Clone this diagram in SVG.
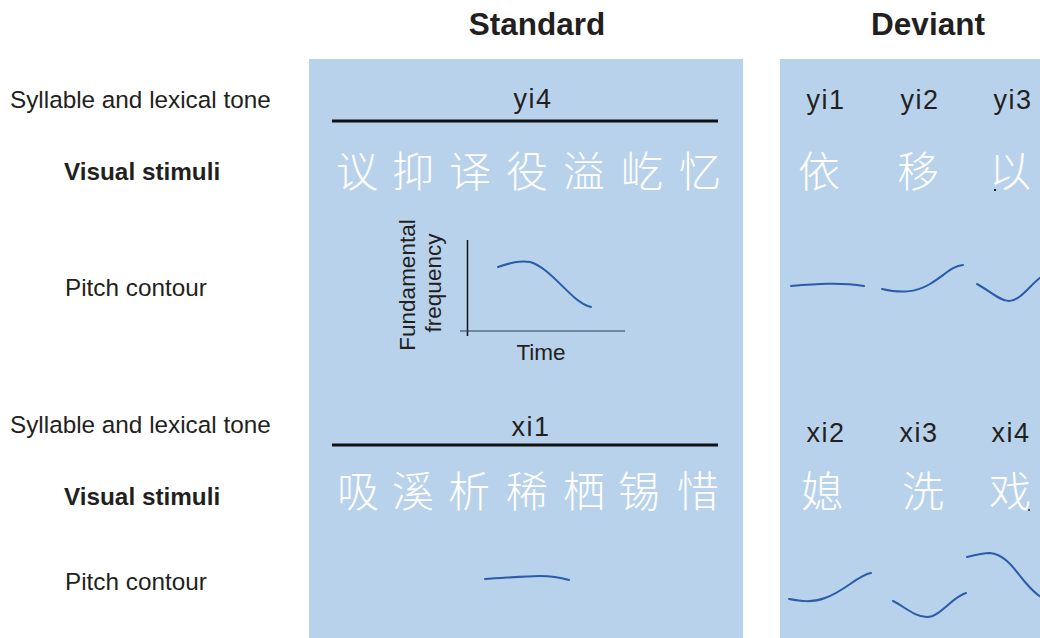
<svg xmlns="http://www.w3.org/2000/svg" width="1040" height="638" viewBox="0 0 1040 638">
<style>
.lbl{font-family:"Liberation Sans",Arial,sans-serif;font-size:24.3px;fill:#231f20}
.b{font-weight:bold}
.ttl{font-family:"Liberation Sans",Arial,sans-serif;font-size:31.5px;font-weight:bold;fill:#231f20;text-anchor:middle}
.syl{font-family:"Liberation Sans",Arial,sans-serif;font-size:27px;fill:#231f20;text-anchor:middle;letter-spacing:1.5px}
.ax{font-family:"Liberation Sans",Arial,sans-serif;font-size:22.5px;fill:#231f20;text-anchor:middle}
.cn{font-family:"Noto Sans CJK SC","Noto Sans CJK TC",sans-serif;font-size:42px;font-weight:300;fill:#ffffff;text-anchor:middle}
.panel{fill:#b8d2ec}
.rule{stroke:#111111;stroke-width:3}
.curve{fill:none;stroke:#2a5caa;stroke-width:2;stroke-linecap:round}
</style>
<rect width="1040" height="638" fill="#ffffff"/>
<g id="titles">
<text class="ttl" x="537" y="35">Standard</text>
<text class="ttl" x="928" y="35">Deviant</text>
</g>
<g id="row-labels">
<text class="lbl" x="10" y="108">Syllable and lexical tone</text>
<text class="lbl b" x="64" y="180">Visual stimuli</text>
<text class="lbl" x="65" y="296">Pitch contour</text>
<text class="lbl" x="10" y="433">Syllable and lexical tone</text>
<text class="lbl b" x="64" y="505">Visual stimuli</text>
<text class="lbl" x="65" y="590">Pitch contour</text>
</g>
<g id="standard-panel">
<rect class="panel" x="309" y="59" width="434" height="579"/>
<text class="syl" x="533" y="108">yi4</text>
<line class="rule" x1="332" y1="121" x2="718" y2="121"/>
<text class="cn" y="187"><tspan x="357">议</tspan><tspan x="413">抑</tspan><tspan x="470">译</tspan><tspan x="527">役</tspan><tspan x="584">溢</tspan><tspan x="642">屹</tspan><tspan x="700">忆</tspan></text>
<g id="f0-graph">
<line x1="467.5" y1="240" x2="467.5" y2="336" stroke="#111111" stroke-width="1.5"/>
<line x1="460" y1="331" x2="625" y2="331" stroke="#2d3a4a" stroke-width="1.2"/>
<text class="ax" transform="translate(415,285) rotate(-90)">Fundamental</text>
<text class="ax" transform="translate(441,283) rotate(-90)">frequency</text>
<text class="ax" x="541" y="360">Time</text>
<path class="curve" d="M498,267 C510,263 520,260 530,262 C545,266 560,285 575,298 C582,304 587,306 591,307"/>
</g>
<text class="syl" x="531" y="436">xi1</text>
<line class="rule" x1="332" y1="445" x2="718" y2="445"/>
<text class="cn" y="507"><tspan x="358">吸</tspan><tspan x="413">溪</tspan><tspan x="469">析</tspan><tspan x="527">稀</tspan><tspan x="584">栖</tspan><tspan x="639">锡</tspan><tspan x="698">惜</tspan></text>
<path class="curve" d="M485,579 C505,578 525,576 540,576 C552,576 562,578 569,580"/>
</g>
<g id="deviant-panel">
<rect class="panel" x="780" y="59" width="260" height="579"/>
<text class="syl" x="826" y="109">yi1</text>
<text class="syl" x="920" y="109">yi2</text>
<text class="syl" x="1013" y="109">yi3</text>
<text class="cn" y="187"><tspan x="819">依</tspan><tspan x="918">移</tspan><tspan x="1010">以</tspan></text>
<rect x="994" y="189" width="2" height="2" fill="#111111"/>
<path class="curve" d="M791,286 C815,284 840,282 864,286"/>
<path class="curve" d="M882,289 C900,293 915,293 930,284 C945,275 952,266 963,265"/>
<path class="curve" d="M977,284 C990,291 1000,301 1009,301 C1020,301 1030,285 1041,277"/>
<text class="syl" x="826" y="442">xi2</text>
<text class="syl" x="919" y="442">xi3</text>
<text class="syl" x="1011" y="442">xi4</text>
<text class="cn" y="507"><tspan x="822">媳</tspan><tspan x="923">洗</tspan><tspan x="1010">戏</tspan></text>
<rect x="1028" y="509" width="2" height="2" fill="#555555"/>
<path class="curve" d="M789,599 C800,601 812,603 825,598 C845,591 858,575 871,573"/>
<path class="curve" d="M893,601 C905,607 915,617 927,617 C940,617 952,597 966,593"/>
<path class="curve" d="M967,557 C975,555 983,553 990,553 C1005,554 1015,570 1025,582 C1031,589 1036,594 1041,597"/>
</g>
</svg>
